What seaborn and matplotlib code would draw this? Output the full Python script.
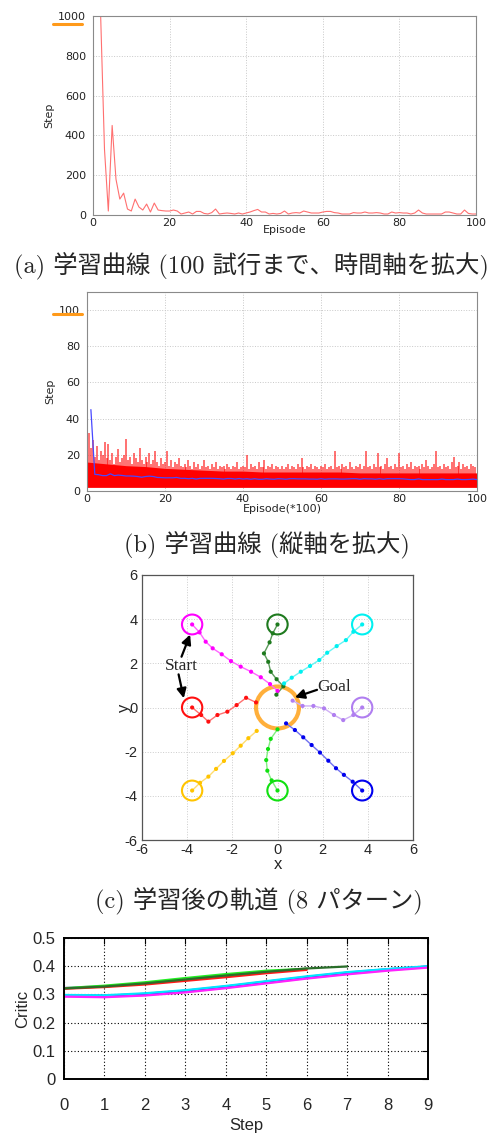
import numpy as np
import matplotlib
matplotlib.use("Agg")
import matplotlib.pyplot as plt
from matplotlib.patches import Circle
from matplotlib.lines import Line2D
import seaborn as sns

# ---- (a) learning curve up to 100 episodes
a_episode = list(range(1, 101))
a_step = [1000, 1000, 330, 20, 450, 180, 80, 110, 30, 20,
          80, 40, 25, 55, 15, 60, 25, 22, 20, 20,
          25, 20, 5, 10, 15, 5, 18, 18, 8, 5,
          12, 30, 5, 8, 10, 8, 5, 10, 5, 10,
          15, 22, 28, 15, 15, 5, 8, 5, 8, 20,
          5, 10, 12, 10, 20, 15, 10, 10, 10, 15,
          18, 18, 12, 10, 5, 5, 5, 12, 10, 10,
          15, 10, 10, 12, 10, 5, 5, 15, 10, 12,
          10, 10, 5, 10, 25, 10, 5, 5, 5, 5,
          5, 15, 15, 10, 5, 5, 25, 8, 5, 5]

# ---- (b) learning curve, y zoomed (x in units of 100 episodes)
# spike tops read every 0.5 unit
b_spike = [1000, 32, 24, 28, 19, 25, 17, 22, 20, 27,
           18, 26, 17, 21, 15, 19, 23, 16, 18, 20,
           29, 17, 19, 15, 21, 18, 16, 24, 17, 15,
           19, 16, 21, 15, 17, 22, 16, 14, 18, 15,
           16, 22, 14, 17, 13, 16, 15, 18, 14, 13,
           15, 13, 17, 14, 12, 16, 13, 15, 12, 14,
           17, 13, 14, 12, 15, 13, 16, 12, 14, 13,
           14, 12, 15, 13, 12, 14, 13, 16, 12, 13,
           14, 13, 20, 12, 15, 13, 14, 12, 16, 13,
           13, 17, 12, 14, 13, 15, 12, 14, 13, 12,
           14, 12, 13, 15, 12, 14, 13, 12, 15, 13,
           18, 13, 12, 14, 13, 15, 12, 14, 13, 12,
           14, 13, 15, 12, 13, 14, 12, 22, 13, 14,
           12, 15, 13, 14, 12, 16, 13, 12, 14, 13,
           15, 12, 14, 22, 13, 14, 12, 15, 13, 21,
           13, 14, 12, 15, 18, 13, 14, 12, 15, 13,
           21, 13, 14, 12, 15, 13, 16, 12, 14, 13,
           14, 12, 15, 13, 17, 14, 12, 13, 15, 22,
           13, 14, 12, 15, 13, 14, 12, 16, 19, 13,
           14, 16, 12, 15, 13, 14, 12, 15, 14, 13]
b_band_x = [0, 5, 10, 15, 20, 25, 30, 35, 40, 45, 50,
            55, 60, 65, 70, 75, 80, 85, 90, 95, 100]
b_band_top = [16, 15, 14, 13.5, 12.5, 12, 11.5, 11, 11, 10.5, 10.5,
              10.5, 10.5, 10.5, 10, 10, 10, 10, 10, 10, 10]
b_mean_x = list(range(1, 101))
b_mean = [45, 9.2, 9.0, 8.5, 8.5, 9.5, 8.5, 8.8, 8.6, 8.3,
          8.3, 8.2, 8.0, 7.6, 8.0, 8.2, 8.0, 7.5, 7.4, 7.3,
          7.3, 7.3, 7.5, 7.0, 7.0, 6.8, 7.0, 6.6, 7.0, 7.0,
          7.0, 7.0, 6.9, 6.8, 6.6, 6.9, 6.9, 6.6, 6.9, 6.6,
          6.8, 6.5, 6.8, 6.5, 6.5, 6.8, 6.6, 6.5, 6.8, 6.7,
          6.5, 6.8, 6.8, 6.7, 6.7, 6.7, 6.6, 6.6, 6.5, 6.8,
          6.5, 6.7, 6.7, 6.7, 6.6, 6.6, 6.7, 6.8, 6.8, 6.5,
          6.8, 6.7, 6.7, 6.5, 6.8, 6.5, 6.8, 6.8, 6.8, 6.8,
          6.7, 6.5, 6.3, 6.3, 6.7, 6.3, 6.3, 6.3, 6.3, 6.3,
          6.6, 6.3, 6.3, 6.3, 6.6, 6.3, 6.3, 6.4, 6.6, 6.3]

# ---- (c) trajectories after learning (first point = start)
magenta_x = [-3.78, -3.45, -3.18, -2.87, -2.47, -2.06, -1.63, -1.17, -0.74, -0.33, 0.0]
magenta_y = [3.76, 3.40, 2.98, 2.68, 2.41, 2.10, 1.85, 1.62, 1.37, 1.06, 0.75]
red_x = [-3.78, -3.38, -3.06, -2.66, -2.22, -1.81, -1.39, -0.95]
red_y = [0.0, -0.34, -0.64, -0.34, -0.19, 0.11, 0.44, 0.23]
dgreen_x = [0.0, -0.21, -0.35, -0.60, -0.41, -0.30, -0.04, 0.26, -0.05]
dgreen_y = [3.76, 3.36, 2.95, 2.45, 2.07, 1.62, 1.28, 0.96, 0.58]
cyan_x = [3.75, 3.36, 3.03, 2.62, 2.20, 1.85, 1.44, 1.03, 0.63, 0.29]
cyan_y = [3.76, 3.43, 3.05, 2.78, 2.48, 2.15, 1.88, 1.62, 1.35, 1.09]
purple_x = [3.75, 3.36, 2.91, 2.50, 2.06, 1.59, 1.11, 0.67]
purple_y = [0.0, -0.34, -0.57, -0.34, -0.04, 0.07, 0.07, 0.31]
blue_x = [3.75, 3.33, 2.94, 2.59, 2.25, 1.88, 1.51, 1.14, 0.77, 0.38]
blue_y = [-3.76, -3.36, -3.05, -2.75, -2.41, -2.04, -1.70, -1.35, -1.02, -0.72]
green_x = [0.0, -0.26, -0.45, -0.50, -0.42, -0.30, 0.0]
green_y = [-3.76, -3.30, -2.86, -2.38, -1.88, -1.42, -0.99]
yellow_x = [-3.78, -3.43, -3.06, -2.72, -2.37, -1.98, -1.63, -1.29, -0.92]
yellow_y = [-3.76, -3.41, -3.13, -2.78, -2.42, -2.07, -1.73, -1.39, -1.06]

# ---- (d) critic value along each trajectory
crit_yellow = [0.294, 0.292, 0.298, 0.309, 0.324, 0.341, 0.358, 0.373, 0.386, 0.397]
crit_blue = [0.297, 0.295, 0.302, 0.313, 0.328, 0.345, 0.362, 0.377, 0.389, 0.399]
crit_cyan = [0.298, 0.297, 0.304, 0.315, 0.330, 0.347, 0.364, 0.379, 0.390, 0.400]
crit_magenta = [0.292, 0.290, 0.296, 0.307, 0.322, 0.339, 0.356, 0.371, 0.384, 0.395]
crit_purple = [0.323, 0.329, 0.339, 0.353, 0.367, 0.380, 0.390]
crit_green = [0.322, 0.331, 0.343, 0.358, 0.372, 0.384, 0.391]
crit_red = [0.320, 0.326, 0.335, 0.348, 0.361, 0.375, 0.387]
crit_dgreen = [0.321, 0.328, 0.339, 0.353, 0.367, 0.380, 0.392, 0.399]

sns.set_style("white")
plt.rcParams["font.family"] = ["DejaVu Sans"]
plt.rcParams["axes.unicode_minus"] = False

W, H = 493, 1133
fig = plt.figure(figsize=(W / 100, H / 100), dpi=100)


def box(l, t, r, b):
    return [l / W, 1 - b / H, (r - l) / W, (b - t) / H]


narrow = ["Liberation Sans Narrow", "Liberation Sans"]
cap_font = ["cmr10", "Noto Sans CJK JP"]


def style_small(ax):
    for s in ax.spines.values():
        s.set_color("#8a8a8a")
        s.set_linewidth(0.8)
    ax.grid(True, color="#c8c8c8", ls=":", lw=0.7)
    ax.tick_params(labelsize=8, labelcolor="#222222", length=0, pad=5)


# (a)
ax_a = fig.add_axes(box(93, 16, 476, 215))
sns.lineplot(x=a_episode, y=a_step, ax=ax_a, color="#ff7070", lw=0.8)
ax_a.set_xlim(0, 100)
ax_a.set_ylim(0, 1000)
ax_a.set_xticks(range(0, 101, 20))
ax_a.set_yticks(range(0, 1001, 200))
style_small(ax_a)
ax_a.tick_params(axis="x", pad=2)
ax_a.set_xlabel("Episode", fontsize=8, labelpad=-2)
ax_a.set_ylabel("Step", fontsize=8, labelpad=3)
ax_a.add_artist(Line2D([-0.104, -0.029], [0.96, 0.96], transform=ax_a.transAxes,
                       color="#ff9a1a", lw=2.2, clip_on=False))

# (b)
ax_b = fig.add_axes(box(87, 292, 477, 491))
ax_b.fill_between(b_band_x, 2, b_band_top, color="red", lw=0)
b_spike_x = np.arange(len(b_spike)) * 0.5
ax_b.vlines(b_spike_x, 2, b_spike, color="red", alpha=0.6, lw=1.3)
sns.lineplot(x=b_mean_x, y=b_mean, ax=ax_b, color="#4848ff", lw=0.9)
ax_b.set_xlim(0, 100)
ax_b.set_ylim(0, 110)
ax_b.set_xticks(range(0, 101, 20))
ax_b.set_yticks(range(0, 101, 20))
style_small(ax_b)
ax_b.tick_params(axis="x", pad=2)
ax_b.set_xlabel("Episode(*100)", fontsize=8, labelpad=0)
ax_b.set_ylabel("Step", fontsize=8, labelpad=3)
ax_b.add_artist(Line2D([-0.087, -0.013], [0.889, 0.889], transform=ax_b.transAxes,
                       color="#ff9a1a", lw=2.2, clip_on=False))

# (c)
ax_c = fig.add_axes(box(142, 575, 413, 840))
tracks = [
    (magenta_x, magenta_y, "#ff00ff", "#ff66ff"),
    (red_x, red_y, "#ff1010", "#ff7070"),
    (dgreen_x, dgreen_y, "#1e7a1e", "#5a9a5a"),
    (cyan_x, cyan_y, "#00f0f0", "#66f5f5"),
    (purple_x, purple_y, "#b07ef0", "#cfb0f5"),
    (blue_x, blue_y, "#0000ee", "#7070f0"),
    (green_x, green_y, "#10e010", "#80ee80"),
    (yellow_x, yellow_y, "#ffc400", "#ffdd70"),
]
ax_c.add_patch(Circle((0, 0), 0.95, fill=False, ec="#ffa726", lw=3, alpha=0.9, zorder=2))
for xs, ys, col, lcol in tracks:
    sns.lineplot(x=xs, y=ys, ax=ax_c, sort=False, estimator=None, color=lcol, lw=1, zorder=3)
    sns.scatterplot(x=xs, y=ys, ax=ax_c, color=col, s=9, edgecolor="none", zorder=4)
    ax_c.add_patch(Circle((xs[0], ys[0]), 0.45, fill=False, ec=col, lw=1.5, zorder=4))
ax_c.set_xlim(-6, 6)
ax_c.set_ylim(-6, 6)
ax_c.set_xticks(range(-6, 7, 2))
ax_c.set_yticks(range(-6, 7, 2))
for s in ax_c.spines.values():
    s.set_color("#555555")
    s.set_linewidth(0.9)
ax_c.grid(True, color="#cccccc", ls=":", lw=0.7)
ax_c.tick_params(length=0)
ax_c.tick_params(axis="x", pad=2)
ax_c.tick_params(axis="y", pad=3)
for lab in ax_c.get_xticklabels() + ax_c.get_yticklabels():
    lab.set_family(narrow)
    lab.set_fontsize(10.5)
ax_c.set_xlabel("x", family=narrow, fontsize=12, labelpad=0)
ax_c.set_ylabel("y", family=narrow, fontsize=12, labelpad=-5)
arrow = dict(arrowstyle="-|>", color="black", lw=1.6, mutation_scale=14, shrinkA=0, shrinkB=0)
ax_c.annotate("", xy=(-3.87, 3.3), xytext=(-4.25, 2.3), arrowprops=arrow, zorder=6)
ax_c.annotate("", xy=(-4.15, 0.42), xytext=(-4.38, 1.5), arrowprops=arrow, zorder=6)
ax_c.text(-4.25, 1.9, "Start", family="Liberation Serif", fontsize=12.5, ha="center", va="center")
ax_c.annotate("", xy=(0.77, 0.46), xytext=(1.75, 0.8), arrowprops=arrow, zorder=6)
ax_c.text(2.5, 0.95, "Goal", family="Liberation Serif", fontsize=12.5, ha="center", va="center")

# (d)
ax_d = fig.add_axes(box(64, 938, 428, 1079))
crit = [
    (crit_yellow, "#ffd000"), (crit_blue, "#1515ff"), (crit_cyan, "#00e5ff"),
    (crit_magenta, "#ff22ff"), (crit_purple, "#b080f0"), (crit_green, "#22ee22"),
    (crit_red, "#ff1a1a"), (crit_dgreen, "#2a6e2a"),
]
for vals, col in crit:
    sns.lineplot(x=list(range(len(vals))), y=vals, ax=ax_d, color=col, lw=1.6)
ax_d.set_xlim(0, 9)
ax_d.set_ylim(0, 0.5)
ax_d.set_xticks(range(0, 10))
ax_d.set_yticks([0, 0.1, 0.2, 0.3, 0.4, 0.5])
ax_d.set_yticklabels(["0", "0.1", "0.2", "0.3", "0.4", "0.5"])
for s in ax_d.spines.values():
    s.set_color("black")
    s.set_linewidth(1.4)
ax_d.grid(True, color="black", ls=(0, (1, 2)), lw=0.8)
ax_d.tick_params(direction="in", top=True, right=True, length=4, width=0.8, color="black")
ax_d.tick_params(axis="x", pad=14)
ax_d.tick_params(axis="y", pad=6)
for lab in ax_d.get_xticklabels() + ax_d.get_yticklabels():
    lab.set_family(narrow)
    lab.set_fontsize(12)
ax_d.set_xlabel("Step", family=narrow, fontsize=12, labelpad=3)
ax_d.set_ylabel("Critic", family=narrow, fontsize=12, labelpad=2)

# captions
fig.text(251 / W, 1 - 265 / H, "(a) 学習曲線 (100 試行まで、時間軸を拡大)",
         family=cap_font, fontsize=17.5, ha="center", va="center")
fig.text(267 / W, 1 - 544 / H, "(b) 学習曲線 (縦軸を拡大)",
         family=cap_font, fontsize=17.5, ha="center", va="center")
fig.text(259 / W, 1 - 900 / H, "(c) 学習後の軌道 (8 パターン)",
         family=cap_font, fontsize=17.5, ha="center", va="center")

fig.savefig("out.png", dpi=100)
